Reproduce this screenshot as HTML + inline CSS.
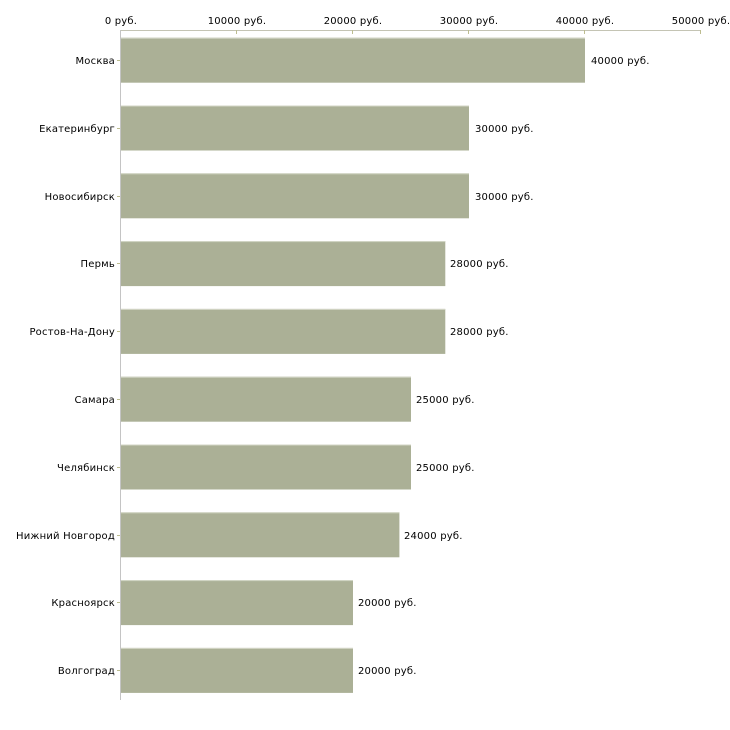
<!DOCTYPE html>
<html><head><meta charset="utf-8">
<style>
html,body{margin:0;padding:0;background:#fff;}
svg{display:block;}
text{font-family:"DejaVu Sans","Liberation Sans",sans-serif;font-size:10px;fill:#000;letter-spacing:0.2px;}
</style></head>
<body>
<svg width="730" height="730" viewBox="0 0 730 730" xmlns="http://www.w3.org/2000/svg">
<rect width="730" height="730" fill="#fff"/>
<!-- top axis -->
<line x1="120.5" y1="30.5" x2="700.5" y2="30.5" stroke="#c4c4b4" stroke-width="1"/>
<g stroke="#bdbd90" stroke-width="1">
<line x1="120.5" y1="30" x2="120.5" y2="34"/>
<line x1="236.5" y1="30" x2="236.5" y2="34"/>
<line x1="352.5" y1="30" x2="352.5" y2="34"/>
<line x1="468.5" y1="30" x2="468.5" y2="34"/>
<line x1="584.5" y1="30" x2="584.5" y2="34"/>
<line x1="700.5" y1="30" x2="700.5" y2="34"/>
</g>
<g text-anchor="middle">
<text x="121" y="24">0 руб.</text>
<text x="237" y="24">10000 руб.</text>
<text x="353" y="24">20000 руб.</text>
<text x="469" y="24">30000 руб.</text>
<text x="585" y="24">40000 руб.</text>
<text x="701" y="24">50000 руб.</text>
</g>
<!-- bars -->
<g fill="#abb096">
<rect x="121" y="37.7" width="464" height="45"/>
<rect x="121" y="105.5" width="348" height="45"/>
<rect x="121" y="173.3" width="348" height="45"/>
<rect x="121" y="241.1" width="324.3" height="45"/>
<rect x="121" y="308.9" width="324.3" height="45"/>
<rect x="121" y="376.7" width="290" height="45"/>
<rect x="121" y="444.5" width="290" height="45"/>
<rect x="121" y="512.3" width="278.4" height="45"/>
<rect x="121" y="580.1" width="232" height="45"/>
<rect x="121" y="647.9" width="232" height="45"/>
</g>
<g fill="#d3d6c6">
<rect x="121" y="37.7" width="464" height="1"/>
<rect x="121" y="105.5" width="348" height="1"/>
<rect x="121" y="173.3" width="348" height="1"/>
<rect x="121" y="241.1" width="324.3" height="1"/>
<rect x="121" y="308.9" width="324.3" height="1"/>
<rect x="121" y="376.7" width="290" height="1"/>
<rect x="121" y="444.5" width="290" height="1"/>
<rect x="121" y="512.3" width="278.4" height="1"/>
<rect x="121" y="580.1" width="232" height="1"/>
<rect x="121" y="647.9" width="232" height="1"/>
</g>
<!-- vertical axis -->
<line x1="120.5" y1="30" x2="120.5" y2="700" stroke="#c4c4c4" stroke-width="1"/>
<g stroke="#bdbd90" stroke-width="1">
<line x1="117" y1="60.5" x2="120" y2="60.5"/>
<line x1="117" y1="128.5" x2="120" y2="128.5"/>
<line x1="117" y1="196.5" x2="120" y2="196.5"/>
<line x1="117" y1="263.5" x2="120" y2="263.5"/>
<line x1="117" y1="331.5" x2="120" y2="331.5"/>
<line x1="117" y1="399.5" x2="120" y2="399.5"/>
<line x1="117" y1="467.5" x2="120" y2="467.5"/>
<line x1="117" y1="535.5" x2="120" y2="535.5"/>
<line x1="117" y1="602.5" x2="120" y2="602.5"/>
<line x1="117" y1="670.5" x2="120" y2="670.5"/>
</g>
<g text-anchor="end">
<text x="115" y="64">Москва</text>
<text x="115" y="132">Екатеринбург</text>
<text x="115" y="200">Новосибирск</text>
<text x="115" y="267">Пермь</text>
<text x="115" y="335">Ростов-На-Дону</text>
<text x="115" y="403">Самара</text>
<text x="115" y="471">Челябинск</text>
<text x="115" y="539">Нижний Новгород</text>
<text x="115" y="606">Красноярск</text>
<text x="115" y="674">Волгоград</text>
</g>
<g>
<text x="591" y="64">40000 руб.</text>
<text x="475" y="132">30000 руб.</text>
<text x="475" y="200">30000 руб.</text>
<text x="450" y="267">28000 руб.</text>
<text x="450" y="335">28000 руб.</text>
<text x="416" y="403">25000 руб.</text>
<text x="416" y="471">25000 руб.</text>
<text x="404" y="539">24000 руб.</text>
<text x="358" y="606">20000 руб.</text>
<text x="358" y="674">20000 руб.</text>
</g>
</svg>
</body></html>
